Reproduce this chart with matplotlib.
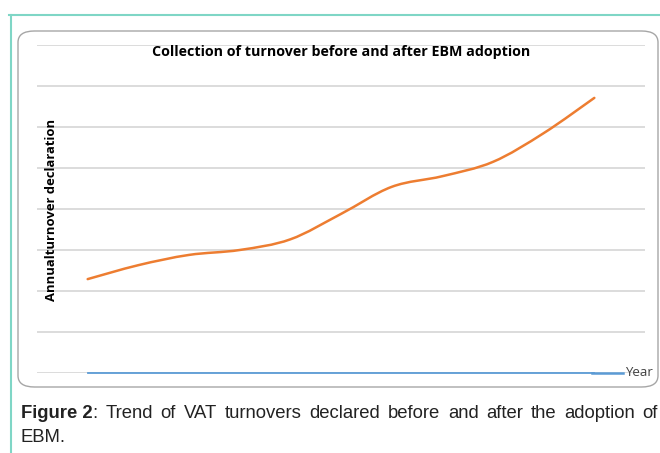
import matplotlib.pyplot as plt
from matplotlib.patches import FancyBboxPatch, PathPatch
from matplotlib.path import Path
from matplotlib.lines import Line2D

# values (gridline = 1 unit)
years = list(range(11))
turnover = [2.29, 2.63, 2.88, 3.0, 3.26, 3.88, 4.54, 4.8, 5.15, 5.85, 6.71]
year_series = [0] * 11

title = "Collection of turnover before and after EBM adoption"
ylabel = "Annualturnover declaration"
caption_bold = "Figure 2"
caption_words = [":", "Trend", "of", "VAT", "turnovers", "declared", "before",
                 "and", "after", "the", "adoption", "of"]
caption_2 = "EBM."

W, H = 660, 453
fig = plt.figure(figsize=(6.6, 4.53), dpi=100)

def fx(px):
    return px / W

def fy(py):
    return 1 - py / H

# excel-style smoothed line (catmull-rom through the data points)
def smooth_path(xs, ys):
    pts = list(zip(xs, ys))
    verts = [pts[0]]
    codes = [Path.MOVETO]
    for i in range(len(pts) - 1):
        p0 = pts[max(i - 1, 0)]
        p1 = pts[i]
        p2 = pts[i + 1]
        p3 = pts[min(i + 2, len(pts) - 1)]
        c1 = (p1[0] + (p2[0] - p0[0]) / 6, p1[1] + (p2[1] - p0[1]) / 6)
        c2 = (p2[0] - (p3[0] - p1[0]) / 6, p2[1] - (p3[1] - p1[1]) / 6)
        verts += [c1, c2, p2]
        codes += [Path.CURVE4] * 3
    return Path(verts, codes)

# teal page frame
fig.add_artist(Line2D([fx(9), 1.0], [fy(15), fy(15)], color="#7fd6c6", lw=1.5))
fig.add_artist(Line2D([fx(11), fx(11)], [fy(15), 0], color="#7fd6c6", lw=1.5))

# rounded chart box
box = FancyBboxPatch((fx(18), fy(387)), fx(658) - fx(18), fy(31) - fy(387),
                     boxstyle="round,pad=0,rounding_size=0.025",
                     transform=fig.transFigure, fc="white", ec="#a6a6a6", lw=1,
                     zorder=-5)
fig.add_artist(box)

ax = fig.add_axes([fx(37), fy(373), fx(645) - fx(37), fy(45) - fy(373)])
ax.set_zorder(2)
ax.set_facecolor("none")
ax.set_xlim(-1, 11)
ax.set_ylim(0, 8)
ax.set_yticks(range(9))
ax.grid(axis="y", color="#d9d9d9", lw=1.3)
ax.set_axisbelow(True)
ax.tick_params(left=False, bottom=False, labelleft=False, labelbottom=False)
for s in ax.spines.values():
    s.set_visible(False)

ax.add_patch(PathPatch(smooth_path(years, turnover), fill=False, ec="#ed7d31",
                       lw=1.8, capstyle="round"))
ax.plot(years, year_series, color="#5b9bd5", lw=1.3, clip_on=False)

# legend entry at right end
fig.add_artist(Line2D([fx(592), fx(623)], [fy(373), fy(373)], color="#5b9bd5",
                      lw=1.8, zorder=3))
fig.text(fx(625), fy(373), "Year", fontsize=9.5, color="#404040", va="center",
         family="Open Sans", zorder=3)

fig.text(fx(341), fy(52), title, fontsize=10.3, fontweight="bold", ha="center",
         va="center", family="Open Sans", zorder=3)
fig.text(fx(52), fy(210), ylabel, fontsize=9.4, fontweight="bold", rotation=90,
         ha="center", va="center", family="Open Sans", zorder=3)

# justified caption, first line
cap_font = dict(fontsize=13.3, va="center", family="Liberation Sans", color="#222222")
renderer = fig.canvas.get_renderer()
x0, x1 = 21, 658
pieces = [fig.text(fx(x0), fy(413), caption_bold, fontweight="bold", **cap_font)]
pieces += [fig.text(0, fy(413), w, **cap_font) for w in caption_words]
widths = [p.get_window_extent(renderer).width for p in pieces]
gap = (x1 - x0 - sum(widths)) / (len(pieces) - 2)
pos = x0 + widths[0]
pieces[1].set_x(fx(pos))
pos += widths[1]
for p, w in zip(pieces[2:], widths[2:]):
    pos += gap
    p.set_x(fx(pos))
    pos += w

fig.text(fx(x0), fy(437), caption_2, **cap_font)

fig.savefig("out.png", dpi=100)
